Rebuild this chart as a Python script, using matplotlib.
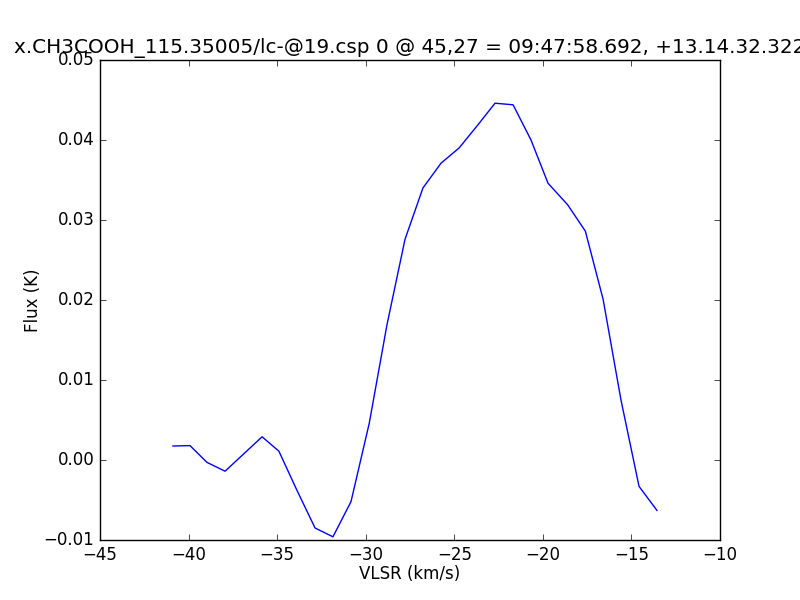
import matplotlib
matplotlib.use("Agg")
import matplotlib.pyplot as plt

plt.style.use("classic")

# spectrum
vlsr = [-40.88, -39.92, -38.96, -37.94, -35.85, -34.90, -33.88, -32.86,
        -31.85, -30.83, -29.80, -28.80, -27.78, -26.77, -25.75, -24.73,
        -23.70, -22.70, -21.68, -20.67, -19.71, -18.60, -17.60, -16.60,
        -15.59, -14.57, -13.56]
flux = [0.00175, 0.0018, -0.0003, -0.0014, 0.0029, 0.0011, -0.0038, -0.0085,
        -0.0096, -0.0052, 0.0046, 0.0169, 0.0276, 0.0340, 0.0371, 0.0390,
        0.0418, 0.0446, 0.0444, 0.0400, 0.0346, 0.0319, 0.0286, 0.0201,
        0.0075, -0.0033, -0.0063]

title = "x.CH3COOH_115.35005/lc-@19.csp 0 @ 45,27 = 09:47:58.692, +13.14.32.322"

fig = plt.figure(figsize=(8, 6), dpi=100, facecolor="white")
ax = fig.add_subplot(111)
ax.plot(vlsr, flux, color="b", linewidth=1)
ax.set_xlim(-45, -10)
ax.set_ylim(-0.01, 0.05)
ax.set_xlabel("VLSR (km/s)", labelpad=1)
ax.set_ylabel("Flux (K)", labelpad=1)
ax.set_title(title)

fig.savefig("out.png", dpi=100, facecolor="white")
